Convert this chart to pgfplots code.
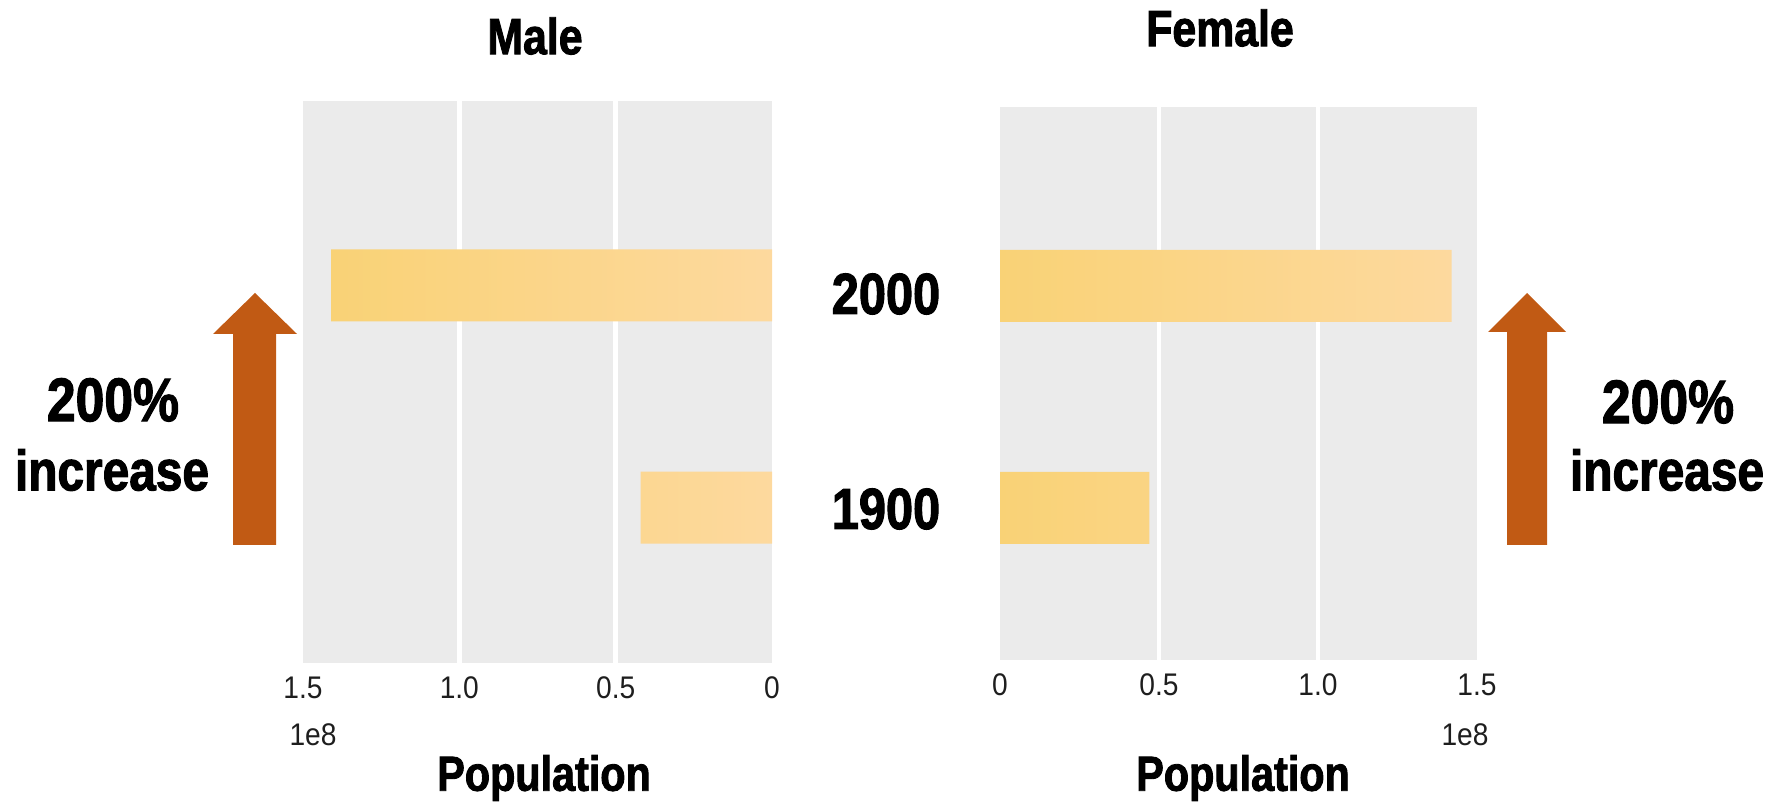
\documentclass[border=0pt]{standalone}
\usepackage{pgfplots}
\pgfplotsset{compat=1.18}
\usepackage{fontspec}
\setmainfont{Liberation Sans}
\newfontfamily\hvy{Liberation Sans}[FakeStretch=0.84, BoldFeatures={FakeBold=1.8}]
\newfontfamily\tickfont{Liberation Sans}[FakeStretch=0.9]
\definecolor{panelgray}{RGB}{235,235,235}
\definecolor{barL}{RGB}{249,210,118}
\definecolor{barR}{RGB}{253,217,158}
\definecolor{arrowc}{RGB}{193,90,20}
\definecolor{tickc}{RGB}{30,30,30}
\newcommand{\hv}[1]{\fontsize{#1}{#1}\selectfont\hvy\bfseries}
\pgfplotsset{
  panel/.style={
    scale only axis,
    axis line style={draw=none},
    tick style={draw=none},
    axis background/.style={fill=panelgray},
    ytick=\empty,
    xmin=0, xmax=150000000,
    scaled ticks=false,
    xtick={0,50000000,100000000,150000000},
    xticklabels={0,0.5,1.0,1.5},
    minor xtick={50000000,100000000},
    xminorgrids=true,
    minor grid style={white, line width=1.4pt},
    /pgf/number format/assume math mode=true,
    xticklabel style={font=\fontsize{8.9}{10}\selectfont\tickfont, text=tickc, anchor=north, inner sep=0pt, yshift=-1.3mm},
    clip=false,
  },
  popbar/.style={xbar, draw=none, bar width=7.2mm, left color=barL, right color=barR},
}
\begin{document}
\begin{tikzpicture}
\useasboundingbox (0mm,0mm) rectangle (178.5mm,80.3mm);
% Male panel
\begin{axis}[panel, at={(30.3mm,14.0mm)}, anchor=south west,
  width=46.9mm, height=56.2mm, x dir=reverse,
  ymin=-0.70, ymax=1.83]
\addplot[popbar] coordinates {(141000000,1) (42000000,0)};
\end{axis}
% Female panel
\begin{axis}[panel, at={(100.0mm,14.3mm)}, anchor=south west,
  width=47.7mm, height=55.3mm,
  ymin=-0.685, ymax=1.806]
\addplot[popbar] coordinates {(142000000,1) (47000000,0)};
\end{axis}
% titles
\node at (53.5mm,76.7mm) {\hv{14.5}Male};
\node at (122.0mm,77.5mm) {\hv{14.5}Female};
\node at (54.4mm,2.5mm) {\hv{14}Population};
\node at (124.3mm,2.5mm) {\hv{14}Population};
\node at (88.6mm,50.9mm) {\hv{16.5}2000};
\node at (88.6mm,29.4mm) {\hv{16.5}1900};
\node[font=\fontsize{8.9}{10}\selectfont\tickfont, text=tickc] at (31.3mm,6.8mm) {1e8};
\node[font=\fontsize{8.9}{10}\selectfont\tickfont, text=tickc] at (146.5mm,6.8mm) {1e8};
% arrows
\fill[arrowc] (23.3mm,25.8mm) -- (27.6mm,25.8mm) -- (27.6mm,46.9mm) -- (29.7mm,46.9mm) -- (25.5mm,51.0mm) -- (21.3mm,46.9mm) -- (23.3mm,46.9mm) -- cycle;
\fill[arrowc] (150.7mm,25.8mm) -- (154.7mm,25.8mm) -- (154.7mm,47.1mm) -- (156.6mm,47.1mm) -- (152.7mm,51.0mm) -- (148.8mm,47.1mm) -- (150.7mm,47.1mm) -- cycle;
\node at (11.3mm,40.3mm) {\hv{17.5}200\%};
\node at (11.2mm,33.3mm) {\hv{16.2}increase};
\node at (166.8mm,40.1mm) {\hv{17.5}200\%};
\node at (166.7mm,33.3mm) {\hv{16.2}increase};
\end{tikzpicture}
\end{document}
